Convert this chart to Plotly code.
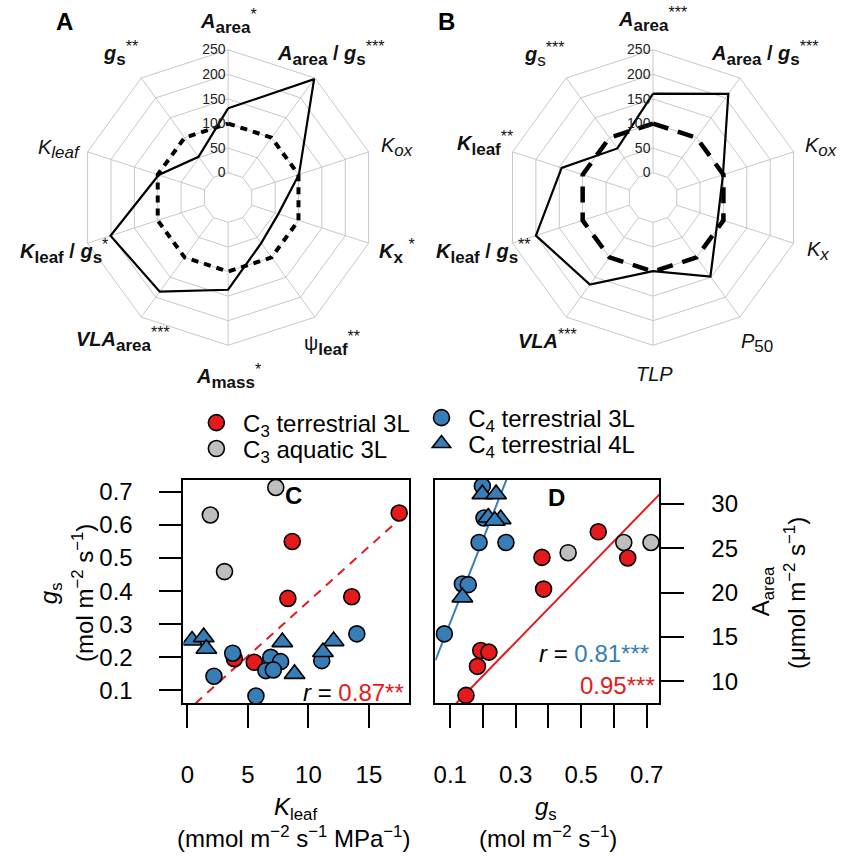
import plotly.graph_objects as go

W, H = 841, 856
FONT = "Liberation Sans, Arial, sans-serif"
RED, BLUE, GREY = "#E41A1C", "#377EB8", "#BEBEBE"


def sb(t, px=17):
    return f"<sub><span style='font-size:{px}px'>{t}</span></sub>"


def sp(t, px=16):
    return f"<sup><span style='font-size:{px}px'>{t}</span></sup>"


# ---------------- radar data (C4 relative to C3 = 100) ----------------
axes_a = ["A_area", "A_area/g_s", "K_ox", "K_x", "psi_leaf",
          "A_mass", "VLA_area", "K_leaf/g_s", "K_leaf", "g_s"]
c4_a = [131, 247, 101, 57, 64, 137, 186, 201, 98, 52]
c3_a = [100, 100, 100, 100, 100, 100, 100, 100, 100, 100]

axes_b = ["A_area", "A_area/g_s", "K_ox", "K_x", "P50",
          "TLP", "VLA", "K_leaf/g_s", "K_leaf", "g_s"]
c4_b = [161, 210, 99, 88, 148, 99, 168, 200, 145, 73]
c3_b = [100, 100, 100, 100, 100, 100, 100, 100, 100, 100]

radial_ticks = [0, 50, 100, 150, 200, 250]

labels_a = [
    f"<b><i>A</i>{sb('area')}</b>{sp('*')}",
    f"<b><i>A</i>{sb('area')} / <i>g</i>{sb('s')}</b>{sp('***')}",
    f"<i>K{sb('ox')}</i>",
    f"<b><i>K</i>{sb('x')}</b> {sp('*')}",
    f"ψ<b>{sb('leaf')}</b>{sp('**')}",
    f"<b><i>A</i>{sb('mass')}</b>{sp('*')}",
    f"<b><i>VLA</i>{sb('area')}</b>{sp('***')}",
    f"<b><i>K</i>{sb('leaf')} / <i>g</i>{sb('s')}</b>{sp('*')}",
    f"<i>K{sb('leaf')}</i>",
    f"<b><i>g</i>{sb('s')}</b>{sp('**')}",
]
labels_a_pos = [(227, 20), (330, 52), (397, 145), (397, 250), (332, 342),
                (227, 375), (121, 338), (62, 250), (57, 147), (118, 52)]

labels_b = [
    f"<b><i>A</i>{sb('area')}</b>{sp('***')}",
    f"<b><i>A</i>{sb('area')} / <i>g</i>{sb('s')}</b>{sp('***')}",
    f"<i>K{sb('ox')}</i>",
    f"<i>K{sb('x')}</i>",
    f"<i>P</i>{sb('50')}",
    "<i>TLP</i>",
    f"<b><i>VLA</i></b>{sp('***')}",
    f"<b><i>K</i>{sb('leaf')} / <i>g</i>{sb('s')}</b>{sp('**')}",
    f"<b><i>K</i>{sb('leaf')}</b>{sp('**')}",
    f"<b><i>g</i></b>{sb('s')}{sp('***')}",
]
labels_b_pos = [(655, 18), (768, 52), (825, 145), (822, 250), (760, 342),
                (657, 373), (549, 338), (485, 250), (486, 142), (546, 53)]

# ---------------- panel C: g_s vs K_leaf ----------------
c_c3t_x = [17.5, 8.66, 8.3, 13.58, 3.88, 5.52]
c_c3t_y = [0.636, 0.55, 0.378, 0.383, 0.196, 0.185]
c_c3a_x = [7.3, 1.89, 3.06]
c_c3a_y = [0.713, 0.63, 0.459]
c_c4c_x = [3.74, 2.19, 5.66, 6.89, 7.7, 6.48, 7.1, 14.0, 11.1]
c_c4c_y = [0.2125, 0.143, 0.083, 0.2, 0.187, 0.16, 0.162, 0.271, 0.19]
c_c4t_x = [0.38, 1.34, 1.56, 7.84, 8.85, 12.08, 11.2]
c_c4t_y = [0.251, 0.261, 0.226, 0.246, 0.15, 0.249, 0.216]
c_fit_c3 = (0.039, 0.033)          # intercept, slope

# ---------------- panel D: A_area vs g_s ----------------
d_c3t_x = [0.552, 0.38, 0.385, 0.642, 0.193, 0.218, 0.183, 0.148]
d_c3t_y = [26.85, 23.97, 20.4, 23.9, 13.48, 13.3, 11.7, 8.43]
d_c3a_x = [0.46, 0.63, 0.713]
d_c3a_y = [24.5, 25.65, 25.65]
d_c4c_x = [0.082, 0.137, 0.155, 0.188, 0.27, 0.198, 0.203]
d_c4c_y = [15.36, 20.98, 20.9, 25.65, 25.65, 32.0, 28.4]
d_c4t_x = [0.137, 0.198, 0.24, 0.216, 0.254, 0.236]
d_c4t_y = [19.47, 31.09, 31.09, 28.46, 28.28, 28.1]
d_fit_c3 = (3.06, 37.9)
d_fit_c4 = (7.25, 93.8)

c_xticks = [0, 5, 10, 15]
c_yticks = [0.1, 0.2, 0.3, 0.4, 0.5, 0.6, 0.7]
d_xticks = [0.1, 0.2, 0.3, 0.4, 0.5, 0.6, 0.7]
d_xticktext = ["0.1", "", "0.3", "", "0.5", "", "0.7"]
d_yticks = [10, 15, 20, 25, 30]

C_XR, C_YR = [-0.33, 18.28], [0.061, 0.736]
D_XR, D_YR = [0.0545, 0.739], [7.53, 32.7]


def px_x(x):
    return x / W


def px_y(y):
    return 1 - y / H


fig = go.Figure()


def closed(vals, names):
    return vals + vals[:1], names + names[:1]


for sub, axes, c4, c3, dash, dw in [("polar", axes_a, c4_a, c3_a, "7px,6px", 4),
                                   ("polar2", axes_b, c4_b, c3_b, "16px,10px", 4.5)]:
    r, th = closed(c3, axes)
    fig.add_trace(go.Scatterpolar(r=r, theta=th, mode="lines", subplot=sub,
                                  line=dict(color="black", width=dw, dash=dash),
                                  showlegend=False, hoverinfo="skip"))
    r, th = closed(c4, axes)
    fig.add_trace(go.Scatterpolar(r=r, theta=th, mode="lines", subplot=sub,
                                  line=dict(color="black", width=2.2),
                                  showlegend=False, hoverinfo="skip"))

marker_line = dict(color="black", width=1.6)
groups = [
    ("C<sub>3</sub> terrestrial 3L", "circle", RED, "legend"),
    ("C<sub>3</sub> aquatic 3L", "circle", GREY, "legend2"),
    ("C<sub>4</sub> terrestrial 3L", "circle", BLUE, "legend3"),
    ("C<sub>4</sub> terrestrial 4L", "triangle-up", BLUE, "legend4"),
]
c_sets = [(c_c3t_x, c_c3t_y), (c_c3a_x, c_c3a_y), (c_c4c_x, c_c4c_y), (c_c4t_x, c_c4t_y)]
d_sets = [(d_c3t_x, d_c3t_y), (d_c3a_x, d_c3a_y), (d_c4c_x, d_c4c_y), (d_c4t_x, d_c4t_y)]

# regression lines first so markers sit on top
b0, b1 = c_fit_c3
fig.add_trace(go.Scatter(x=C_XR, y=[b0 + b1 * v for v in C_XR], mode="lines",
                         line=dict(color=RED, width=2, dash="9px,7px"),
                         xaxis="x", yaxis="y", showlegend=False, hoverinfo="skip"))
for (b0, b1), col in [(d_fit_c3, RED), (d_fit_c4, BLUE)]:
    fig.add_trace(go.Scatter(x=D_XR, y=[b0 + b1 * v for v in D_XR], mode="lines",
                             line=dict(color=col, width=2),
                             xaxis="x2", yaxis="y2", showlegend=False, hoverinfo="skip"))

for (name, sym, col, leg), (cx, cy), (dx, dy) in zip(groups, c_sets, d_sets):
    size = 18 if sym == "triangle-up" else 16
    fig.add_trace(go.Scatter(x=cx, y=cy, mode="markers", name=" " + name, legend=leg,
                             marker=dict(symbol=sym, size=size, color=col, line=marker_line),
                             xaxis="x", yaxis="y"))
    fig.add_trace(go.Scatter(x=dx, y=dy, mode="markers", showlegend=False,
                             marker=dict(symbol=sym, size=size, color=col, line=marker_line),
                             xaxis="x2", yaxis="y2"))

GRID = "#c8c8c8"


def polar_layout(cx):
    r = 149
    return dict(
        domain=dict(x=[(cx - r) / W, (cx + r) / W], y=[px_y(196 + r), px_y(196 - r)]),
        hole=0.168, gridshape="linear", bgcolor="white",
        radialaxis=dict(range=[0, 250], tickvals=radial_ticks, angle=90, tickangle=90,
                        side="counterclockwise", showline=False, ticks="",
                        gridcolor=GRID, gridwidth=1,
                        tickfont=dict(family=FONT, size=14, color="#222")),
        angularaxis=dict(rotation=90, direction="clockwise", showticklabels=False,
                         ticks="", gridcolor=GRID, linecolor=GRID, showline=True),
    )


axis_common = dict(showgrid=False, zeroline=False, showline=True, mirror=True,
                   linecolor="black", linewidth=2, ticks="outside", tickwidth=2,
                   tickcolor="black", tickfont=dict(family=FONT, size=24, color="black"))

y_dom = [px_y(703), px_y(479)]
fig.update_layout(
    width=W, height=H, margin=dict(l=0, r=0, t=0, b=0),
    paper_bgcolor="white", plot_bgcolor="white",
    font=dict(family=FONT, color="black"),
    polar=polar_layout(227), polar2=polar_layout(655.5),
    xaxis=dict(domain=[182 / W, 409 / W], range=C_XR, tickvals=c_xticks, ticklen=23,
               ticklabelstandoff=26, anchor="y", **axis_common),
    yaxis=dict(domain=y_dom, range=C_YR, tickvals=c_yticks, ticklen=22,
               ticklabelstandoff=22, anchor="x", **axis_common),
    xaxis2=dict(domain=[436 / W, 662 / W], range=D_XR, tickvals=d_xticks,
                ticktext=d_xticktext, ticklen=23, ticklabelstandoff=26, anchor="y2",
                **axis_common),
    yaxis2=dict(domain=y_dom, range=D_YR, tickvals=d_yticks, side="right", ticklen=23,
                ticklabelstandoff=22, anchor="x2", **axis_common),
)

leg_font = dict(family=FONT, size=24, color="black")
for key, (mx, my) in zip(["legend", "legend2", "legend3", "legend4"],
                         [(215, 422), (215, 448), (442, 417), (442, 443)]):
    fig.update_layout({key: dict(x=(mx - 20) / W, y=px_y(my), xanchor="left",
                                 yanchor="middle", bgcolor="rgba(0,0,0,0)",
                                 font=leg_font, borderwidth=0)})


def note(text, x, y, size, color="black", xanchor="center", angle=0):
    return dict(text=text, x=px_x(x), y=px_y(y), xref="paper", yref="paper",
                xanchor=xanchor, yanchor="middle", showarrow=False, textangle=angle,
                font=dict(family=FONT, size=size, color=color))


ann = []
for labels, pos in [(labels_a, labels_a_pos), (labels_b, labels_b_pos)]:
    for t, (x, y) in zip(labels, pos):
        ann.append(note(t, x, y, 20, "#111"))

for t, x, y, sz in [("<b>A</b>", 62, 20, 24), ("<b>B</b>", 447, 20, 24),
                    ("<b>C</b>", 293, 495, 24), ("<b>D</b>", 558, 497, 24)]:
    ann.append(note(t, x, y, sz))

# correlation coefficients
ann += [
    note(f"<i>r</i> = <span style='color:{RED}'>0.87**</span>", 406, 692, 24, xanchor="right"),
    note(f"<i>r</i> = <span style='color:{BLUE}'>0.81***</span>", 653, 653, 24, xanchor="right"),
    note(f"<span style='color:{RED}'>0.95***</span>", 659, 685, 24, xanchor="right"),
]

# axis titles
for t, x, y, ang in [
    ("<i>K</i><sub>leaf</sub>", 295, 808, 0),
    ("(mmol m<sup>−2</sup> s<sup>−1</sup> MPa<sup>−1</sup>)", 293, 837, 0),
    ("<i>g</i><sub>s</sub>", 548, 808, 0),
    ("(mol m<sup>−2</sup> s<sup>−1</sup>)", 550, 837, 0),
    ("<i>g</i><sub>s</sub>", 48, 593, -90),
    ("(mol m<sup>−2</sup> s<sup>−1</sup>)", 80, 592, -90),
    ("A<sub>area</sub>", 766, 591, -90),
    ("(μmol m<sup>−2</sup> s<sup>−1</sup>)", 798, 592, -90),
]:
    ann.append(note(t, x, y, 24, angle=ang))

fig.update_layout(annotations=ann)
fig.write_html("out.html")
